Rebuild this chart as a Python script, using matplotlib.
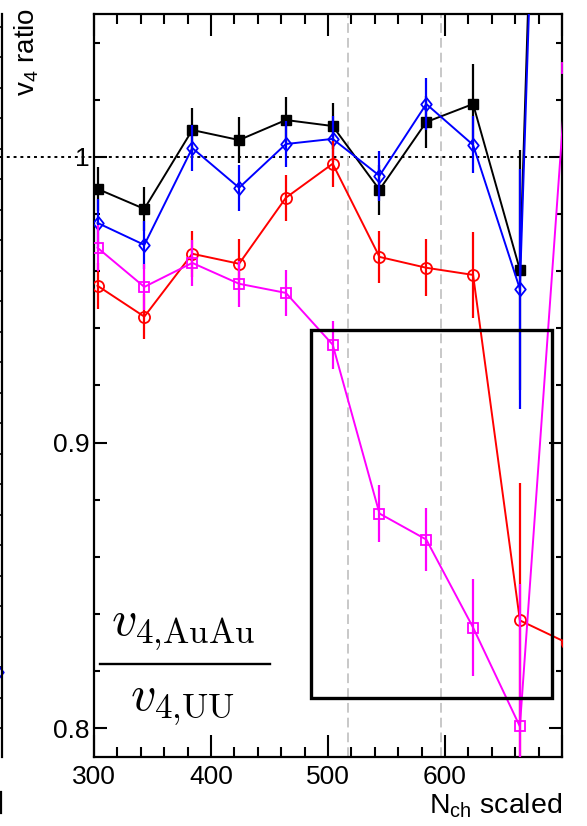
import matplotlib
matplotlib.use('Agg')
import matplotlib.pyplot as plt
from matplotlib.patches import Rectangle
from matplotlib.lines import Line2D
from matplotlib.ticker import MultipleLocator, NullFormatter

plt.rcParams['font.family'] = ['Liberation Sans', 'DejaVu Sans']
plt.rcParams['mathtext.fontset'] = 'custom'
plt.rcParams['mathtext.rm'] = 'Liberation Sans'
plt.rcParams['mathtext.it'] = 'Liberation Sans:italic'
plt.rcParams['mathtext.bf'] = 'Liberation Sans:bold'

# ---------------- data ----------------
nch = [303, 343, 384, 424, 464, 504, 544, 584, 624, 664, 704]
black = [0.9888, 0.9818, 1.0094, 1.0059, 1.0129, 1.0108, 0.9885, 1.0122, 1.0185, 0.9605, 1.484]
black_err = [0.0078, 0.0077, 0.0077, 0.008, 0.008, 0.008, 0.0087, 0.009, 0.014, 0.042, 0.05]
blue = [0.9769, 0.9692, 1.0031, 0.9892, 1.0045, 1.0063, 0.9934, 1.0185, 1.0042, 0.9538, 1.454]
blue_err = [0.0084, 0.0084, 0.008, 0.008, 0.008, 0.008, 0.0087, 0.009, 0.010, 0.042, 0.05]
red = [0.9549, 0.9441, 0.9661, 0.9626, 0.9857, 0.9976, 0.965, 0.9612, 0.9587, 0.8378, 0.830]
red_err = [0.008, 0.008, 0.008, 0.0087, 0.008, 0.008, 0.009, 0.010, 0.015, 0.048, 0.05]
magenta = [0.9682, 0.9545, 0.9629, 0.9556, 0.9524, 0.9343, 0.8752, 0.8661, 0.8353, 0.8007, 1.031]
magenta_err = [0.008, 0.008, 0.008, 0.008, 0.008, 0.0084, 0.010, 0.011, 0.017, 0.05, 0.05]

vlines_x = [517, 597]
box_x = (485.5, 691.5)
box_y = (0.8108, 0.9395)
xticks_major = [300, 400, 500, 600]
yticks_major = [0.8, 0.9, 1.0]
ytick_labels = ['0.8', '0.9', '1']
left_panel_point = 1.84

# ---------------- figure ----------------
W, H = 587, 826
fig = plt.figure(figsize=(W / 100, H / 100), dpi=100)


def fx(px):
    return px / W


def fy(py):
    return 1 - py / H


L, R, T, B = 94, 562, 14, 757
ax = fig.add_axes([fx(L), fy(B), (R - L) / W, (B - T) / H])
ax.set_xlim(300, 700)
ax.set_ylim(0.79, 1.05)

for s in ax.spines.values():
    s.set_linewidth(1.6)

ax.set_xticks(xticks_major + [700])
ax.set_xticklabels([str(v) for v in xticks_major] + [''])
ax.xaxis.set_minor_locator(MultipleLocator(20))
ax.set_yticks(yticks_major)
ax.set_yticklabels(ytick_labels)
ax.yaxis.set_minor_locator(MultipleLocator(0.02))

ax.tick_params(axis='both', which='both', direction='in', top=True, right=True,
               width=1.5, labelsize=19)
ax.tick_params(axis='x', which='major', length=16, pad=6)
ax.tick_params(axis='x', which='minor', length=7)
ax.tick_params(axis='y', which='major', length=9.5, pad=3)
ax.tick_params(axis='y', which='minor', length=4.5)

# reference lines
ax.axhline(1.0, xmin=-L / (R - L), xmax=1, color='k', lw=1.4,
           linestyle=(0, (1.5, 2.0)), clip_on=False, zorder=1)
for xv in vlines_x:
    ax.axvline(xv, color='#c8c8c8', lw=1.4, linestyle=(0, (5, 2.6)), zorder=1)

diamond = [(0, 1), (0.8, 0), (0, -1), (-0.8, 0), (0, 1)]

ax.errorbar(nch, black, yerr=black_err, color='k', lw=1.4, elinewidth=1.6,
            capsize=0, marker='s', ms=7.2, mfc='k', mec='k', zorder=3)
ax.errorbar(nch, blue, yerr=blue_err, color='#0000ff', lw=1.4, elinewidth=1.6,
            capsize=0, marker=diamond, ms=9.5, mfc='none', mec='#0000ff', mew=1.3, zorder=4)
ax.errorbar(nch, red, yerr=red_err, color='#ff0000', lw=1.4, elinewidth=1.6,
            capsize=0, marker='o', ms=8, mfc='none', mec='#ff0000', mew=1.3, zorder=5)
ax.errorbar(nch, magenta, yerr=magenta_err, color='#ff00ff', lw=1.4, elinewidth=1.6,
            capsize=0, marker='s', ms=7, mfc='none', mec='#ff00ff', mew=1.3, zorder=6)

ax.add_patch(Rectangle((box_x[0], box_y[0]), box_x[1] - box_x[0], box_y[1] - box_y[0],
                       fill=False, lw=2.4, ec='k', zorder=7))

# ---------------- left neighbouring panel (cropped) ----------------
axl = fig.add_axes([fx(-150), fy(B), 152 / W, (B - T) / H])
axl.set_xlim(0, 1)
axl.set_ylim(-(B - 728) / 30.5, (728 - T) / 30.5)
for k in ['left', 'top', 'bottom']:
    axl.spines[k].set_visible(False)
axl.spines['right'].set_linewidth(1.6)
axl.yaxis.tick_right()
axl.yaxis.set_major_locator(MultipleLocator(1))
axl.yaxis.set_major_formatter(NullFormatter())
axl.set_xticks([])
axl.tick_params(axis='y', direction='in', length=4, width=1.2)
axl.plot([1 - 4 / 152], [left_panel_point], marker=diamond, ms=9.5, mfc='none',
         mec='#0000ff', mew=1.3, clip_on=False)
axl.patch.set_visible(False)
# visible stem of the neighbouring panel's axis title
fig.add_artist(Line2D([fx(1.2), fx(1.2)], [fy(792), fy(813)], lw=1.6, color='k'))

# ---------------- texts ----------------
fig.text(fx(27), fy(8), 'v$_4$ ratio', rotation=90, ha='center', va='top', fontsize=20)
fig.text(fx(562), fy(813), r'N$_{\mathrm{ch}}$ scaled', ha='right', va='baseline', fontsize=20.5)

fig.text(fx(183), fy(635), r'$v_{4{,}\mathrm{AuAu}}$', math_fontfamily='cm', fontsize=36,
         ha='center', va='baseline')
fig.text(fx(182), fy(710), r'$v_{4{,}\mathrm{UU}}$', math_fontfamily='cm', fontsize=36,
         ha='center', va='baseline')
fig.add_artist(Line2D([fx(100), fx(270)], [fy(664), fy(664)], lw=1.7, color='k'))

fig.savefig('out.png', dpi=100)
